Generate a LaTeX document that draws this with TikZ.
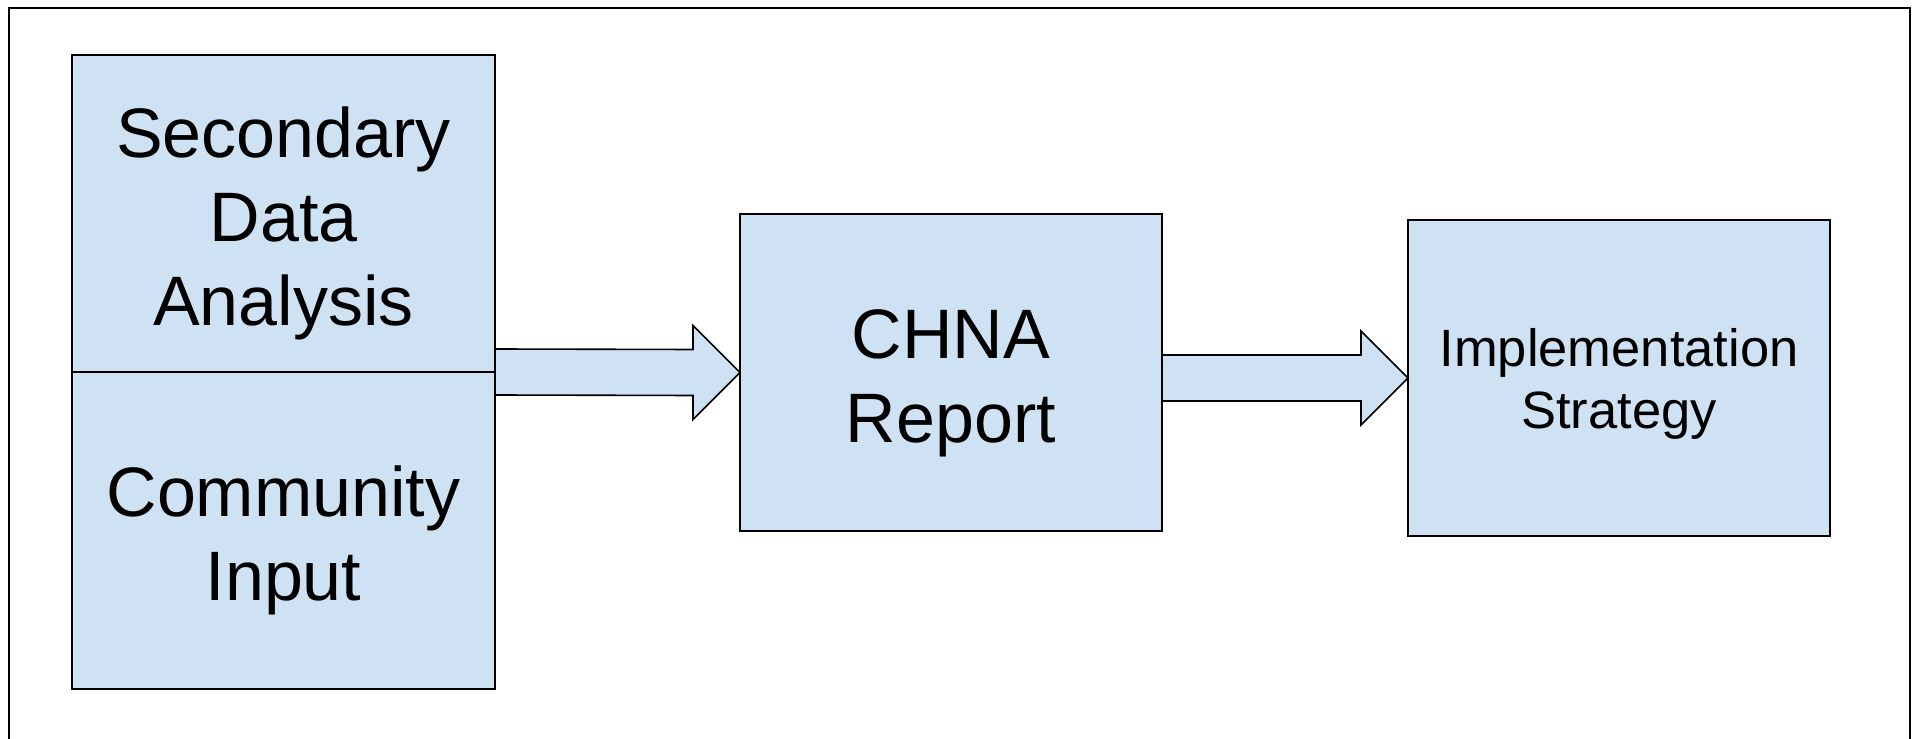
\documentclass[tikz,border=0pt]{standalone}
\usepackage{fontspec}
\setmainfont{Liberation Sans}
\usetikzlibrary{positioning, calc}

\definecolor{stageblue}{RGB}{207,226,243}

\tikzset{
    stage/.style={rectangle, draw, fill=stageblue, line width=1.6pt, align=center, inner sep=0pt, outer sep=0pt},
    bigtext/.style={font=\fontsize{70}{84}\selectfont},
    smalltext/.style={font=\fontsize{52.5}{62}\selectfont},
    fatarrow/.style={draw, fill=stageblue, line width=1.6pt}
}

\begin{document}
\begin{tikzpicture}[x=1pt, y=1pt]
        \useasboundingbox (0,0) rectangle (1915,739);
        \draw[line width=1.6pt] (9,-20) rectangle (1910,731);

        \node[stage, bigtext, minimum width=423pt, minimum height=317pt] (sda) at (283.5,525.5) {\rule{0pt}{70pt}Secondary\\Data\\Analysis};
        \node[stage, bigtext, minimum width=423pt, minimum height=317pt, below=0pt of sda] (ci) {\rule{0pt}{70pt}Community\\Input};
        \node[stage, bigtext, minimum width=422pt, minimum height=317pt] (chna) at (951,366.5) {\rule{0pt}{70pt}CHNA\\Report};
        \node[stage, smalltext, minimum width=422pt, minimum height=316pt] (impl) at (1619,361) {\rule{0pt}{50pt}Implementation\\Strategy};

        \draw[fatarrow] ($(sda.south east)+(0,23)$) -- ($(chna.west)+(-47,23)$)
            -- ($(chna.west)+(-47,47)$) -- (chna.west) -- ($(chna.west)+(-47,-47)$)
            -- ($(chna.west)+(-47,-23)$) -- ($(sda.south east)+(0,-23)$) -- cycle;
        \draw[fatarrow] ($(chna.east |- impl.west)+(0,23)$) -- ($(impl.west)+(-47,23)$)
            -- ($(impl.west)+(-47,47)$) -- (impl.west) -- ($(impl.west)+(-47,-47)$)
            -- ($(impl.west)+(-47,-23)$) -- ($(chna.east |- impl.west)+(0,-23)$) -- cycle;
\end{tikzpicture}
\end{document}
